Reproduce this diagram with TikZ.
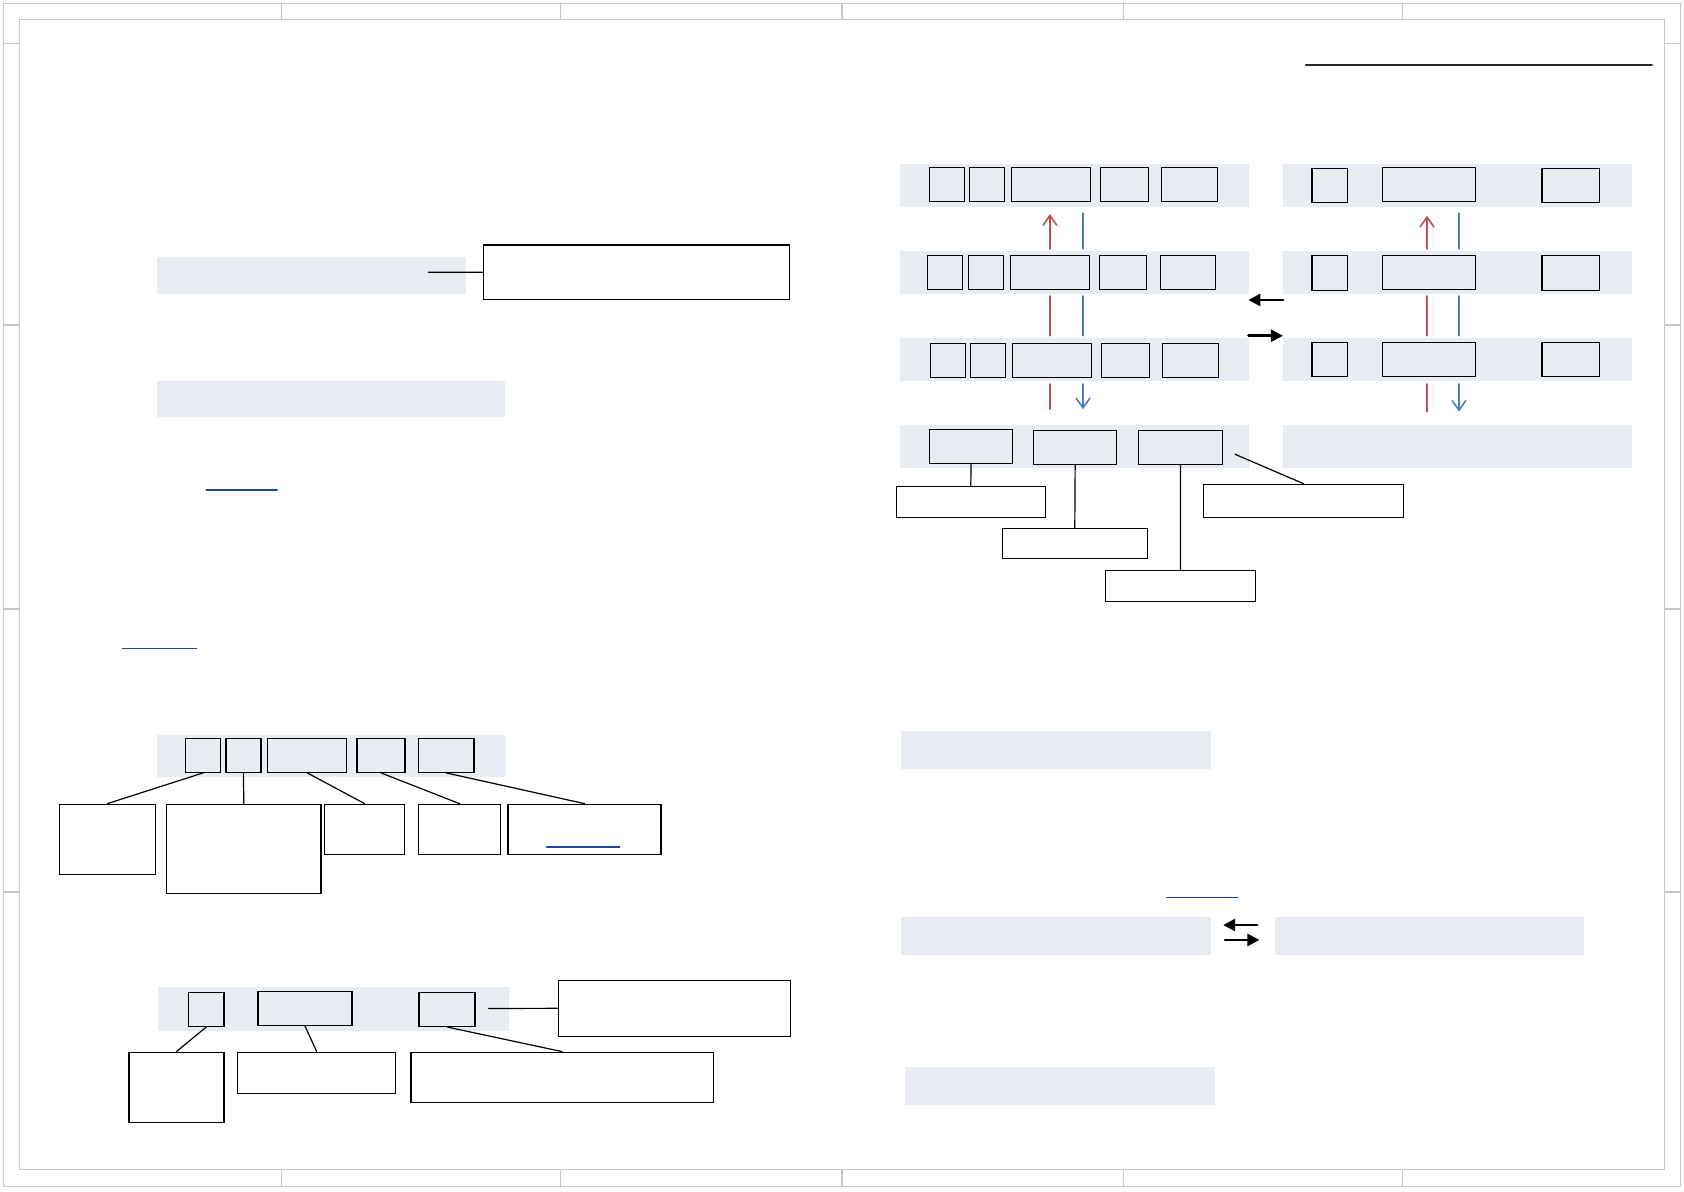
\documentclass[tikz,border=0pt]{standalone}
\usepackage{tikz}
\usetikzlibrary{arrows.meta,fit}
\usepackage{xcolor}
\definecolor{bandgray}{RGB}{232,236,243}
\definecolor{arrred}{RGB}{192,80,77}
\definecolor{arrblue}{RGB}{79,129,189}
\definecolor{linkblue}{RGB}{30,70,160}

\begin{document}
\begin{tikzpicture}[x=0.537pt,y=-0.537pt,line cap=round,
  band/.style={fill=bandgray,draw=none,inner sep=0pt},
  box/.style={draw,line width=0.7pt,inner sep=0pt,line cap=butt},
  link/.style={line width=0.6pt},
  ulink/.style={linkblue,line width=0.8pt},
  frame/.style={gray!45,line width=0.6pt},
  redarr/.style={arrred,line width=0.8pt},
  bluearr/.style={arrblue,line width=0.8pt},
  barb/.style={-{Straight Barb[length=5pt,width=7pt]}},
  blkarr/.style={line width=1.3pt,-{Triangle[length=6pt,width=6pt]}}]
\useasboundingbox (0,0) rectangle (1568,1109);
% frame
\draw[frame] (3,3) rectangle (1565,1105);
\draw[frame] (18,18) rectangle (1550,1089);
\foreach \x in {262,522,784,1046,1306} {
  \draw[frame] (\x,3) -- (\x,18);
  \draw[frame] (\x,1089) -- (\x,1105);
}
\foreach \y in {40.3,302.6,567,830.6} {
  \draw[frame] (3,\y) -- (18,\y);
  \draw[frame] (1550,\y) -- (1565,\y);
}
\draw[black!85,line width=1.2pt] (1216,60.5) -- (1538,60.5);

% left column
\node[band,fit={(146,239) (434,274)}] (bandA) {};
\node[box,fit={(450,228) (735,279)}] (noteA) {};
\coordinate (tipA) at (399,253.5);
\draw[link] (tipA) -- (noteA.west);
\node[band,fit={(146,355) (470,388)}] (bandB) {};
\draw[ulink] (192,456) -- (258,456);
\draw[ulink] (114,604) -- (183,604);

\node[band,fit={(146.6,684.4) (471,723.7)}] (bandC) {};
\node[box,fit={(172.8,687.5) (205.4,719)}] (c1) {};
\node[box,fit={(210.3,687.5) (242.9,719)}] (c2) {};
\node[box,fit={(249.3,687.5) (322.9,719)}] (c3) {};
\node[box,fit={(332.4,687.5) (377.1,719)}] (c4) {};
\node[box,fit={(389.4,687.5) (441.4,719)}] (c5) {};
\node[box,fit={(55.3,748.9) (144.8,814)}] (cb1) {};
\node[box,fit={(155.2,748.9) (298.9,831.8)}] (cb2) {};
\node[box,fit={(302.2,748.9) (376.7,795.4)}] (cb3) {};
\node[box,fit={(389.4,748.9) (466.2,795.4)}] (cb4) {};
\node[box,fit={(473,748.9) (615.5,795.4)}] (cb5) {};
\foreach \i in {1,...,5} \draw[link] (c\i.south) -- (cb\i.north);
\draw[ulink] (509,788.6) -- (577,788.6);

\node[band,fit={(147.5,919) (474,959.7)}] (bandD) {};
\node[box,fit={(175.5,924) (208.6,955.6)}] (d1) {};
\node[box,fit={(240.2,923) (327.8,954.7)}] (d2) {};
\node[box,fit={(390.2,924) (442.3,955.6)}] (d3) {};
\node[box,fit={(520,912.8) (736,964.9)}] (noteD) {};
\node[box,fit={(120,979.8) (208.6,1045)}] (db1) {};
\node[box,fit={(221.2,979.8) (368.5,1018)}] (db2) {};
\node[box,fit={(382.6,979.8) (664.2,1026.4)}] (db3) {};
\foreach \i in {1,2,3} \draw[link] (d\i.south) -- (db\i.north);
\coordinate (tipD) at (455,939);
\draw[link] (tipD) -- (noteD.west);

% right column, stack
\node[band,fit={(838.4,152.7) (1163.3,192.4)}] (lr1) {};
\node[band,fit={(838.4,233.7) (1163.3,273.7)}] (lr2) {};
\node[band,fit={(838.4,315) (1163.3,355)}] (lr3) {};
\node[band,fit={(838.4,396) (1163.3,436)}] (lr4) {};
\node[band,fit={(1194.6,152.7) (1519.6,192.4)}] (rr1) {};
\node[band,fit={(1194.6,233.7) (1519.6,273.7)}] (rr2) {};
\node[band,fit={(1194.6,315) (1519.6,355)}] (rr3) {};
\node[band,fit={(1194.6,396) (1519.6,436)}] (rr4) {};

\node[box,fit={(865.5,155.8) (898.2,187.4)}] (p11) {};
\node[box,fit={(902.5,155.8) (935.3,187.4)}] (p12) {};
\node[box,fit={(941.9,155.8) (1015.6,187.4)}] (p13) {};
\node[box,fit={(1024.6,155.8) (1069.3,187.4)}] (p14) {};
\node[box,fit={(1081.6,155.8) (1133.4,187.4)}] (p15) {};
\node[box,fit={(863.5,237.7) (896.4,269.4)}] (p21) {};
\node[box,fit={(901.6,237.7) (934.4,269.4)}] (p22) {};
\node[box,fit={(941,237.7) (1014.6,269.4)}] (p23) {};
\node[box,fit={(1023.6,237.7) (1067.3,269.4)}] (p24) {};
\node[box,fit={(1080.6,237.7) (1131.9,269.4)}] (p25) {};
\node[box,fit={(866.4,319.7) (899.2,351.3)}] (p31) {};
\node[box,fit={(903.4,319.7) (936.2,351.3)}] (p32) {};
\node[box,fit={(942.9,319.7) (1016.5,351.3)}] (p33) {};
\node[box,fit={(1025.5,319.7) (1070.2,351.3)}] (p34) {};
\node[box,fit={(1082.6,319.7) (1134.4,351.3)}] (p35) {};

\node[box,fit={(1221.7,156.7) (1254.4,188.4)}] (s11) {};
\node[box,fit={(1287.3,155.8) (1373.8,187.4)}] (s12) {};
\node[box,fit={(1435.9,156.7) (1489.2,188.4)}] (s13) {};
\node[box,fit={(1221.7,237.7) (1254.4,270.3)}] (s21) {};
\node[box,fit={(1287.3,237.7) (1373.8,269.4)}] (s22) {};
\node[box,fit={(1435.9,237.7) (1489.2,270.3)}] (s23) {};
\node[box,fit={(1221.7,318.7) (1254.4,350.4)}] (s31) {};
\node[box,fit={(1287.3,318.7) (1373.8,350.4)}] (s32) {};
\node[box,fit={(1435.9,318.7) (1489.2,350.4)}] (s33) {};

% red and blue flow
\draw[redarr,barb] (977.6,231.8) -- (977.6,199.3);
\draw[bluearr] (1008.4,198.6) -- (1008.4,231.8);
\draw[redarr] (977.6,275.6) -- (977.6,312.6);
\draw[bluearr] (1008.4,275.6) -- (1008.4,312.6);
\draw[redarr] (977.6,357.6) -- (977.6,381.1);
\draw[bluearr,barb] (1008.4,357.6) -- (1008.4,381.1);
\draw[redarr,barb] (1328.7,231.8) -- (1328.7,200.8);
\draw[bluearr] (1358.5,198.6) -- (1358.5,231.8);
\draw[redarr] (1328.7,275.6) -- (1328.7,312.6);
\draw[bluearr] (1358.5,275.6) -- (1358.5,312.6);
\draw[redarr] (1328.7,357.6) -- (1328.7,383.3);
\draw[bluearr,barb] (1358.5,357.6) -- (1358.5,383.3);
\draw[blkarr] (1194.6,279.3) -- (1162.4,279.3);
\draw[blkarr] (1162.4,312.6) -- (1194.6,312.6);

\node[box,fit={(865.5,399.8) (942.9,431.4)}] (q1) {};
\node[box,fit={(962.4,400.7) (1039.8,432.3)}] (q2) {};
\node[box,fit={(1060.2,400.7) (1138.1,432.3)}] (q3) {};
\node[box,fit={(834.5,452.8) (973.3,481.7)}] (g1) {};
\node[box,fit={(933.3,491.9) (1068.2,519.8)}] (g2) {};
\node[box,fit={(1029.3,531) (1169,559.9)}] (g3) {};
\node[box,fit={(1120.6,451) (1306.8,481.7)}] (g4) {};
\foreach \i in {1,2,3} \draw[link] (q\i.south) -- (g\i.north);
\coordinate (tipQ) at (1150,423);
\draw[link] (tipQ) -- (g4.north);

% right column, lower part
\node[band,fit={(838.7,680.6) (1127.6,715.7)}] (bandS1) {};
\draw[ulink] (1086.6,835.8) -- (1152.5,835.8);
\node[band,fit={(838.7,853.8) (1127.6,888.9)}] (bandS2) {};
\node[band,fit={(1186.8,853.8) (1474.7,888.9)}] (bandS3) {};
\draw[blkarr] (1170.5,861.3) -- (1138.9,861.3);
\draw[blkarr] (1140.6,875.2) -- (1172.7,875.2);
\node[band,fit={(842.8,993.5) (1131.2,1028.6)}] (bandS4) {};
\end{tikzpicture}
\end{document}
